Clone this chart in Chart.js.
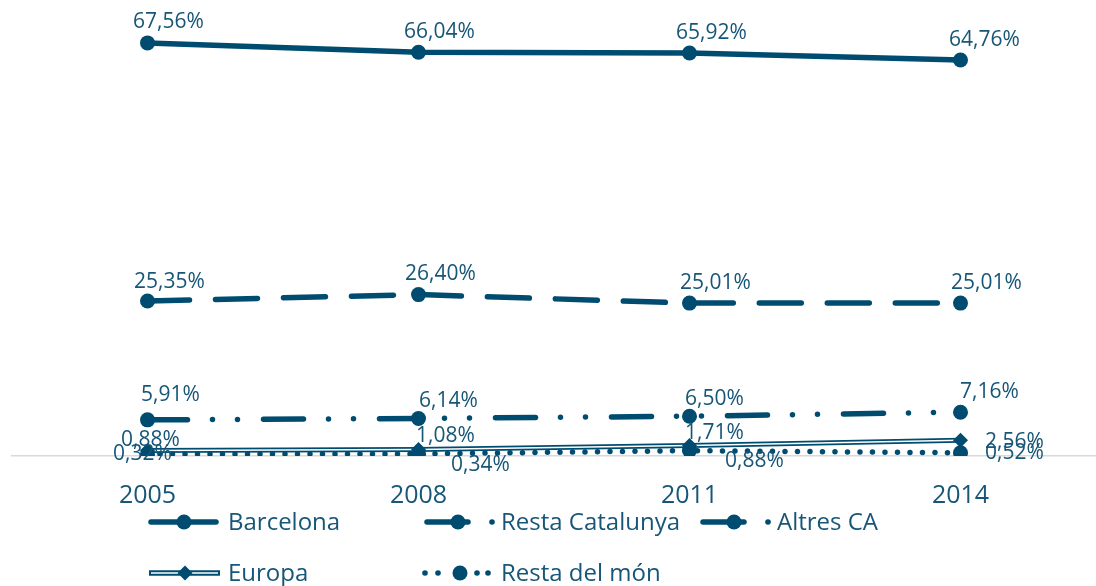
<!DOCTYPE html>
<html>
<head>
<meta charset="utf-8">
<script src="https://cdn.jsdelivr.net/npm/chart.js@4"></script>
<style>
  html, body { margin: 0; padding: 0; background: #fff; }
  #wrap { position: relative; width: 1096px; height: 586px; }
</style>
</head>
<body>
<div id="wrap"><canvas id="chart"></canvas></div>
<script>
// data
const years = ['2005', '2008', '2011', '2014'];
const barcelona = [67.56, 66.04, 65.92, 64.76];
const restaCatalunya = [25.35, 26.40, 25.01, 25.01];
const altresCA = [5.91, 6.14, 6.50, 7.16];
const europa = [0.88, 1.08, 1.71, 2.56];
const restaMon = [0.32, 0.34, 0.88, 0.52];

const NAVY = '#004c70';
const TEXT = '#175677';
const FONT = "'Open Sans', sans-serif";

function pct(v) {
    return v.toFixed(2).replace('.', ',') + '%';
}

// value labels, positioned like the original (offset of text centre from point)
const labelPlugin = {
    id: 'valueLabels',
    afterDatasetsDraw(chart, args, opts) {
        const ctx = chart.ctx;
        ctx.save();
        ctx.font = '21px ' + FONT;
        ctx.fillStyle = TEXT;
        ctx.textAlign = 'center';
        ctx.textBaseline = 'middle';
        opts.items.forEach(item => {
            const meta = chart.getDatasetMeta(item.ds);
            const values = chart.data.datasets[item.ds].data;
            meta.data.forEach((pt, i) => {
                const off = item.offsets[i];
                ctx.fillText(pct(values[i]), pt.x + off[0], pt.y + off[1]);
            });
        });
        ctx.restore();
    }
};

// Excel style legend, two rows
const legendPlugin = {
    id: 'excelLegend',
    afterDraw(chart, args, opts) {
        const ctx = chart.ctx;
        ctx.save();
        opts.items.forEach(item => {
            const x = item.x, y = item.y;
            ctx.strokeStyle = NAVY;
            ctx.fillStyle = NAVY;
            ctx.lineCap = 'round';
            ctx.setLineDash([]);
            if (item.kind === 'solid') {
                ctx.lineWidth = 5.5;
                ctx.beginPath(); ctx.moveTo(x + 3, y); ctx.lineTo(x + 68, y); ctx.stroke();
                ctx.beginPath(); ctx.arc(x + 36, y, 7.5, 0, Math.PI * 2); ctx.fill();
            } else if (item.kind === 'dash') {
                ctx.lineWidth = 5.5;
                ctx.beginPath(); ctx.moveTo(x + 6, y); ctx.lineTo(x + 47, y); ctx.stroke();
                ctx.beginPath(); ctx.arc(x + 37, y, 7.5, 0, Math.PI * 2); ctx.fill();
                ctx.beginPath(); ctx.arc(x + 71, y, 2.8, 0, Math.PI * 2); ctx.fill();
            } else if (item.kind === 'double') {
                ctx.lineCap = 'butt';
                ctx.lineWidth = 5.5;
                ctx.beginPath(); ctx.moveTo(x + 1, y); ctx.lineTo(x + 72, y); ctx.stroke();
                ctx.strokeStyle = '#fff';
                ctx.lineWidth = 1.6;
                ctx.beginPath(); ctx.moveTo(x + 3, y); ctx.lineTo(x + 70, y); ctx.stroke();
                ctx.beginPath();
                ctx.moveTo(x + 37, y - 7.5); ctx.lineTo(x + 44.5, y);
                ctx.lineTo(x + 37, y + 7.5); ctx.lineTo(x + 29.5, y);
                ctx.closePath(); ctx.fill();
            } else if (item.kind === 'dots') {
                [4, 17, 56, 67].forEach(d => {
                    ctx.beginPath(); ctx.arc(x + d, y, 2.8, 0, Math.PI * 2); ctx.fill();
                });
                ctx.beginPath(); ctx.arc(x + 39, y, 7.5, 0, Math.PI * 2); ctx.fill();
            }
            ctx.font = '24px ' + FONT;
            ctx.fillStyle = TEXT;
            ctx.textAlign = 'left';
            ctx.textBaseline = 'middle';
            ctx.fillText(item.label, x + 80, y + 1);
        });
        ctx.restore();
    }
};

const ctx = document.getElementById('chart').getContext('2d');
new Chart(ctx, {
    type: 'line',
    data: {
        labels: years,
        datasets: [
            {   // 0
                label: 'Barcelona',
                data: barcelona,
                borderColor: NAVY, backgroundColor: NAVY,
                borderWidth: 5.5, borderCapStyle: 'round',
                pointRadius: 7.5, pointStyle: 'circle', pointBorderWidth: 0,
                order: 1
            },
            {   // 1
                label: 'Resta Catalunya',
                data: restaCatalunya,
                borderColor: NAVY, backgroundColor: NAVY,
                borderWidth: 5.5, borderCapStyle: 'round',
                borderDash: [42, 26],
                pointRadius: 7.5, pointBorderWidth: 0,
                order: 2
            },
            {   // 2
                label: 'Altres CA',
                data: altresCA,
                borderColor: NAVY, backgroundColor: NAVY,
                borderWidth: 5.5, borderCapStyle: 'round',
                borderDash: [40, 25, 0, 25, 0, 26],
                pointRadius: 7.5, pointBorderWidth: 0,
                order: 3
            },
            {   // 3 Europa outer line
                label: 'Europa',
                data: europa,
                borderColor: NAVY,
                borderWidth: 5,
                pointRadius: 0,
                order: 7
            },
            {   // 4 Europa inner white line
                label: 'Europa (inner)',
                data: europa,
                borderColor: '#ffffff',
                borderWidth: 1.5,
                pointRadius: 0,
                order: 6
            },
            {   // 5 Europa markers
                label: 'Europa (markers)',
                data: europa,
                showLine: false,
                backgroundColor: NAVY, borderColor: NAVY,
                pointStyle: 'rectRot', pointRadius: 7.5, pointBorderWidth: 0,
                order: 5
            },
            {   // 6
                label: 'Resta del món',
                data: restaMon,
                borderColor: NAVY, backgroundColor: NAVY,
                borderWidth: 5.5, borderCapStyle: 'round',
                borderDash: [0, 12.5],
                pointRadius: 7.5, pointBorderWidth: 0,
                order: 4
            }
        ]
    },
    options: {
        responsive: true,
        maintainAspectRatio: false,
        animation: false,
        layout: { autoPadding: false, padding: { left: 12, right: 0, top: 28, bottom: 0 } },
        elements: { line: { tension: 0 } },
        scales: {
            x: {
                offset: true,
                grid: { display: false, drawTicks: false },
                border: { display: true, color: '#d9d9d9', width: 1.5 },
                ticks: {
                    color: TEXT,
                    font: { family: FONT, size: 25 },
                    padding: 25,
                    maxRotation: 0, minRotation: 0
                },
                afterFit(scale) { scale.height = 130; }
            },
            y: {
                display: false,
                min: 0,
                max: 70
            }
        },
        plugins: {
            legend: { display: false },
            tooltip: { enabled: false },
            valueLabels: {
                items: [
                    { ds: 0, offsets: [[21, -21], [21, -20], [22, -20], [24, -20]] },
                    { ds: 1, offsets: [[22, -19], [22, -21], [26, -20], [26, -20]] },
                    { ds: 2, offsets: [[23, -25], [30, -17], [25, -17], [29, -20]] },
                    { ds: 5, offsets: [[3, -11], [27, -13], [25, -13], [54, 2]] },
                    { ds: 6, offsets: [[-5, 0], [62, 11], [65, 10], [54, 0]] }
                ]
            },
            excelLegend: {
                items: [
                    { label: 'Barcelona', kind: 'solid', x: 148, y: 522 },
                    { label: 'Resta Catalunya', kind: 'dash', x: 421, y: 522 },
                    { label: 'Altres CA', kind: 'dash', x: 697, y: 522 },
                    { label: 'Europa', kind: 'double', x: 148, y: 573 },
                    { label: 'Resta del món', kind: 'dots', x: 421, y: 573 }
                ]
            }
        }
    },
    plugins: [labelPlugin, legendPlugin]
});
</script>
</body>
</html>
